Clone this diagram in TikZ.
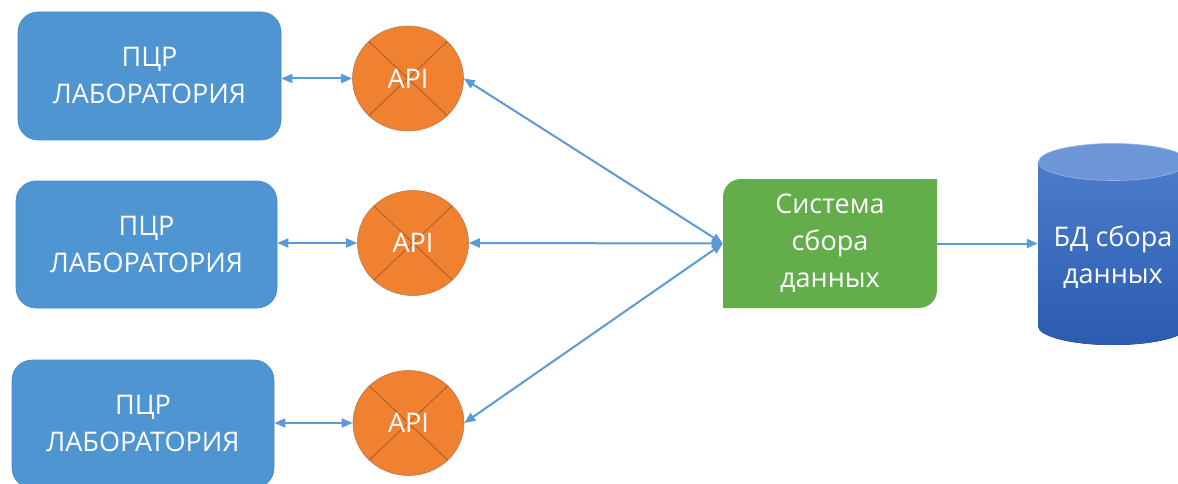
\documentclass[tikz,border=0pt]{standalone}
\usepackage{fontspec}
\setmainfont{Open Sans}
\usetikzlibrary{arrows.meta,shapes.geometric}
\definecolor{labblue}{HTML}{4E95D2}
\definecolor{apiorange}{HTML}{F08131}
\definecolor{crossc}{HTML}{A85A28}
\definecolor{sysgreen}{HTML}{63AE4B}
\definecolor{arrowblue}{HTML}{5B9BD5}
\definecolor{dbtop}{HTML}{6D96D7}
\definecolor{dblight}{HTML}{4F7FCC}
\definecolor{dbdark}{HTML}{2C5CB0}
\begin{document}
\begin{tikzpicture}[x=1pt,y=-1pt,
  bigfont/.style={font=\fontsize{27}{37}\selectfont},
  lab/.style={rectangle, rounded corners=20pt, fill=labblue, draw=labblue!92!black,
    line width=0.6pt, text=white, bigfont, align=center, inner sep=0pt},
  api/.style={ellipse, minimum width=111pt, minimum height=105pt, fill=apiorange,
    draw=crossc!80, line width=0.6pt, text=white, bigfont, inner sep=0pt,
    path picture={\draw[crossc, line width=0.8pt]
      (path picture bounding box.north west) -- (path picture bounding box.south east)
      (path picture bounding box.south west) -- (path picture bounding box.north east);}},
  sysbox/.style={rectangle, minimum width=214pt, minimum height=129pt, inner sep=0pt,
    text=white, bigfont, align=center,
    path picture={\fill[sysgreen]
      (path picture bounding box.south west)
      -- ([yshift=-18pt]path picture bounding box.north west)
      arc[start angle=180, end angle=90, radius=18pt]
      -- (path picture bounding box.north east)
      -- ([yshift=18pt]path picture bounding box.south east)
      arc[start angle=0, end angle=-90, radius=18pt] -- cycle;}},
  dbshape/.style={rectangle, minimum width=150pt, minimum height=202pt, inner sep=0pt,
    path picture={
      \fill[top color=dblight, bottom color=dbdark]
        ([yshift=-19pt]path picture bounding box.north west)
        -- ([yshift=19pt]path picture bounding box.south west)
        arc[start angle=180, end angle=360, x radius=75pt, y radius=19pt]
        -- ([yshift=-19pt]path picture bounding box.north east) -- cycle;
      \fill[dbtop, draw=dbtop!70!white, line width=0.6pt]
        ([yshift=-19pt]path picture bounding box.north) ellipse [x radius=74.5pt, y radius=18.5pt];}},
  dbtext/.style={text=white, bigfont, align=center, inner sep=0pt},
  conn/.style={arrowblue, line width=2pt, {Triangle[length=11pt,width=9pt]}-{Triangle[length=11pt,width=9pt]}},
  oneway/.style={arrowblue, line width=2pt, -{Triangle[length=11pt,width=9pt]}}
]
\useasboundingbox (0,0) rectangle (1178,484);
\fill[white] (0,0) rectangle (1178,484);
\clip (0,0) rectangle (1178,484);

\node[lab, minimum width=263pt, minimum height=128pt] (lab1) at (149.5,76) {ПЦР\\ЛАБОРАТОРИЯ};
\node[lab, minimum width=261pt, minimum height=127pt] (lab2) at (146.5,244.5) {ПЦР\\ЛАБОРАТОРИЯ};
\node[lab, minimum width=262pt, minimum height=128pt] (lab3) at (143,424) {ПЦР\\ЛАБОРАТОРИЯ};

\node[api] (api1) at (408,78.5) {API};
\node[api] (api2) at (413,243) {API};
\node[api] (api3) at (408.5,423) {API};

\node[sysbox] (sys) at (830,243.5) {Система\\сбора\\данных};

\node[dbshape] (db) at (1113,244) {};
\node[dbtext] (dbt) at (1113,257) {БД сбора\\данных};

\draw[conn] (api1.west -| lab1.east) -- (api1.west);
\draw[conn] (api2.west -| lab2.east) -- (api2.west);
\draw[conn] (api3.west -| lab3.east) -- (api3.west);

\draw[conn] (api1.east) -- (sys.west);
\draw[conn] (api2.east) -- (sys.west);
\draw[conn] (api3.east) -- (sys.west);

\draw[oneway] (sys.east) -- (sys.east -| db.west);
\end{tikzpicture}
\end{document}
